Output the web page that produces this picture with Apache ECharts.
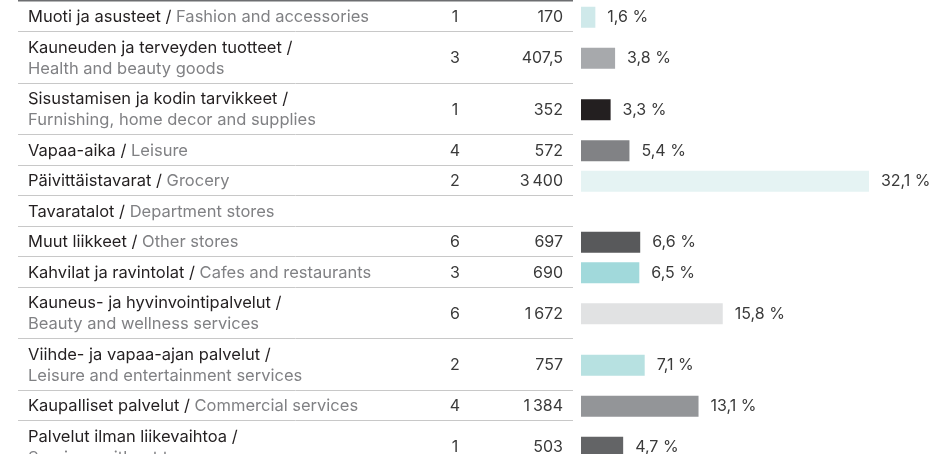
<!DOCTYPE html>
<html>
<head>
<meta charset="utf-8">
<script src="https://cdn.jsdelivr.net/npm/echarts@6/dist/echarts.min.js"></script>
<style>
  html, body { margin: 0; padding: 0; background: #fff; }
  #chart { width: 935px; height: 454px; }
</style>
</head>
<body>
<div id="chart"></div>
<script>
  // rivien nimet, suomeksi ja englanniksi
  var namesFi = ['Muoti ja asusteet', 'Kauneuden ja terveyden tuotteet', 'Sisustamisen ja kodin tarvikkeet',
    'Vapaa-aika', 'Päivittäistavarat', 'Tavaratalot', 'Muut liikkeet', 'Kahvilat ja ravintolat',
    'Kauneus- ja hyvinvointipalvelut', 'Viihde- ja vapaa-ajan palvelut', 'Kaupalliset palvelut',
    'Palvelut ilman liikevaihtoa'];
  var namesEn = ['Fashion and accessories', 'Health and beauty goods', 'Furnishing, home decor and supplies',
    'Leisure', 'Grocery', 'Department stores', 'Other stores', 'Cafes and restaurants',
    'Beauty and wellness services', 'Leisure and entertainment services', 'Commercial services',
    'Services without turnover'];
  var twoLines = [false, true, true, false, false, false, false, false, true, true, false, true];
  var stores = [1, 3, 1, 4, 2, null, 6, 3, 6, 2, 4, 1];
  var area = [170, 407.5, 352, 572, 3400, null, 697, 690, 1672, 757, 1384, 503];
  var share = [1.6, 3.8, 3.3, 5.4, 32.1, null, 6.6, 6.5, 15.8, 7.1, 13.1, 4.7];
  var barColors = ['#cfe9ea', '#a7a9ac', '#231f20', '#818285', '#e5f3f3', '#ffffff', '#58595b',
    '#a1d9db', '#e1e2e3', '#b7e1e1', '#939598', '#636466'];

  var FONT = 'Inter';
  var ROW1 = 30.5, ROW2 = 51.5;

  function fmt(v) {
    var s = String(v).replace('.', ',');
    var parts = s.split(',');
    parts[0] = parts[0].replace(/\B(?=(\d{3})+(?!\d))/g, '\u2009');
    return parts.join(',');
  }

  // rivien yläreunat lasketaan rivien korkeuksista
  var rowTop = [];
  var acc = 0.5;
  for (var i = 0; i < namesFi.length; i++) {
    rowTop.push(acc);
    acc += twoLines[i] ? ROW2 : ROW1;
  }

  var data = namesFi.map(function (n, i) {
    var h = twoLines[i] ? ROW2 : ROW1;
    return [share[i] == null ? 0 : share[i], rowTop[i] + h / 2, i];
  });

  var myChart = echarts.init(document.getElementById('chart'));
  myChart.setOption({
    animation: false,
    grid: { left: 581, width: 314, top: 0, height: 454 },
    xAxis: { type: 'value', min: 0, max: 35, show: false },
    yAxis: { type: 'value', min: 0, max: 454, inverse: true, show: false },
    series: [{
      type: 'custom',
      clip: false,
      data: data,
      renderItem: function (params, api) {
        var i = api.value(2);
        var yc = api.value(1);
        var h = twoLines[i] ? ROW2 : ROW1;
        var p0 = api.coord([0, yc]);
        var y = p0[1] + 1.5;
        var children = [];
        // rivin alaviiva
        children.push({
          type: 'line',
          shape: { x1: 18, y1: Math.round(rowTop[i] + h) + 0.5, x2: 573, y2: Math.round(rowTop[i] + h) + 0.5 },
          style: { stroke: '#c8c8c8', lineWidth: 1 }
        });
        var txt = twoLines[i]
          ? '{fi|' + namesFi[i] + ' /}\n{en|' + namesEn[i] + '}'
          : '{fi|' + namesFi[i] + ' / }{en|' + namesEn[i] + '}';
        children.push({
          type: 'text',
          x: 28, y: y,
          style: {
            text: txt, verticalAlign: 'middle', align: 'left',
            rich: {
              fi: { fontFamily: FONT, fontSize: 16.5, fill: '#231f20', lineHeight: 21 },
              en: { fontFamily: FONT, fontSize: 16.5, fill: '#808184', lineHeight: 21 }
            }
          }
        });
        if (stores[i] != null) {
          children.push({
            type: 'text', x: 455, y: y,
            style: { text: String(stores[i]), align: 'center', verticalAlign: 'middle',
              fontFamily: FONT, fontSize: 16, fill: '#3a3a3a' }
          });
          children.push({
            type: 'text', x: 563, y: y,
            style: { text: fmt(area[i]), align: 'right', verticalAlign: 'middle',
              fontFamily: FONT, fontSize: 16, fill: '#3a3a3a' }
          });
          var p1 = api.coord([api.value(0), yc]);
          children.push({
            type: 'rect',
            shape: { x: p0[0], y: y - 10.5, width: p1[0] - p0[0], height: 21 },
            style: { fill: barColors[i] }
          });
          children.push({
            type: 'text', x: p1[0] + 12, y: y,
            style: { text: fmt(share[i]) + ' %', align: 'left', verticalAlign: 'middle',
              fontFamily: FONT, fontSize: 16, fill: '#3a3a3a' }
          });
        }
        return { type: 'group', children: children };
      }
    }],
    graphic: [{
      type: 'line',
      shape: { x1: 18, y1: 0.5, x2: 573, y2: 0.5 },
      style: { stroke: '#6d6e71', lineWidth: 2 }
    }]
  });
</script>
</body>
</html>
